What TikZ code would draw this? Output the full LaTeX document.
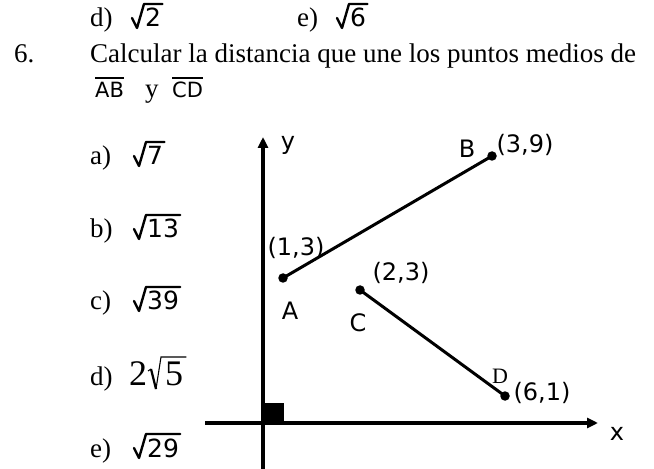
\documentclass[tikz,border=0pt]{standalone}
\usepackage{fontspec}
\setmainfont{Liberation Serif}
\newfontfamily\comicfont{DejaVu Sans}
\usetikzlibrary{arrows.meta,calc}

\tikzset{
  tx/.style={inner sep=0pt, anchor=base west, font=\fontsize{27bp}{32bp}\selectfont},
  cdig/.style={inner sep=0pt, anchor=base west, font=\comicfont\fontsize{25bp}{29bp}\selectfont},
  cseg/.style={inner sep=0pt, anchor=base west, font=\comicfont\fontsize{21bp}{25bp}\selectfont},
  lbl/.style={inner sep=0pt, font=\comicfont\fontsize{24bp}{28bp}\selectfont},
  cradl/.style={line width=2.4bp, line join=round, line cap=round},
  ovl/.style={line width=1.6bp},
  axisln/.style={line width=3.5bp, -{Triangle[length=11bp,width=10bp]}},
  segln/.style={line width=3bp},
  dotpt/.style={circle, fill=black, inner sep=0pt, minimum size=9.5bp},
  bigtx/.style={inner sep=0pt, anchor=base west, font=\fontsize{36bp}{40bp}\selectfont},
}

\newcommand\cradical[3]{%
  \node[cdig] (#1) at (#2) {#3};
  \draw[cradl] ($(#1.base west)+(-13,-9)$) -- ($(#1.base west)+(-8,1)$)
     -- ($(#1.base west)+(-1,-23)$) -- ($(#1.base east)+(1,-23)$);
}

\begin{document}
\begin{tikzpicture}[x=1bp,y=-1bp]
\useasboundingbox (0,0) rectangle (654,469);

% previous question options
\node[tx] (pd) at (90,27) {d)};
\cradical{pdr}{145,27}{2}
\node[tx] (pe) at (297,27) {e)};
\cradical{per}{350,27}{6}

% question
\node[tx] (qn) at (14,63) {6.};
\node[tx] (qt) at (90,63) {Calcular la distancia que une los puntos medios de};
\node[cseg] (ab) at (95,98) {AB};
\draw[ovl] ($(ab.base west)+(0,-20)$) -- ($(ab.base east)+(0,-20)$);
\node[tx] (yy) at (145,98) {y};
\node[cseg] (cd) at (172,98) {CD};
\draw[ovl] ($(cd.base west)+(0,-20)$) -- ($(cd.base east)+(0,-20)$);

% options
\node[tx] (oa) at (90,165) {a)};
\cradical{ra}{147,165}{7}
\node[tx] (ob) at (90,238) {b)};
\cradical{rb}{147,238}{13}
\node[tx] (oc) at (90,310) {c)};
\cradical{rc}{147,310}{39}
\node[tx] (od) at (90,385) {d)};
\node[bigtx] (d2) at (129,385) {2};
\node[bigtx] (d5) at (165,385) {5};
\draw[line width=1.1bp] ($(d5.base west)+(-17,-14)$) -- ($(d5.base west)+(-14,-16)$);
\draw[line width=2.2bp] ($(d5.base west)+(-14,-16)$) -- ($(d5.base west)+(-9,4)$);
\draw[line width=1.1bp] ($(d5.base west)+(-9,4)$) -- ($(d5.base west)+(-4,-28)$) -- ($(d5.base east)+(3,-28)$);
\node[tx] (oe) at (90,457) {e)};
\cradical{re}{147,457}{29}

% axes
\coordinate (ybot) at (263,469);
\coordinate (ytop) at (263,137);
\coordinate (xlft) at (205,423);
\coordinate (xrgt) at (598,423);
\draw[axisln] (ybot) -- (ytop);
\draw[axisln] (xlft) -- (xrgt);
\fill (263,403) rectangle (284,423);
\node[lbl] (ylab) at (288,145) {y};
\node[lbl] (xlab) at (617,434) {x};

% points
\node[dotpt] (pA) at (283,278) {};
\node[dotpt] (pB) at (492,156) {};
\node[dotpt] (pC) at (360,290) {};
\node[dotpt] (pD) at (505,396) {};
\draw[segln] (pA.center) -- (pB.center);
\draw[segln] (pC.center) -- (pD.center);

\node[lbl] (lA) at (290,311) {A};
\node[lbl] (cA) at (296,248) {(1,3)};
\node[lbl] (lB) at (467,149) {B};
\node[lbl] (cB) at (525,145) {(3,9)};
\node[lbl] (lC) at (358,323) {C};
\node[lbl] (cC) at (401,273) {(2,3)};
\node[inner sep=0pt, font=\fontsize{22bp}{26bp}\selectfont] (lD) at (500,376) {D};
\node[lbl] (cD) at (542,393) {(6,1)};
\end{tikzpicture}
\end{document}
